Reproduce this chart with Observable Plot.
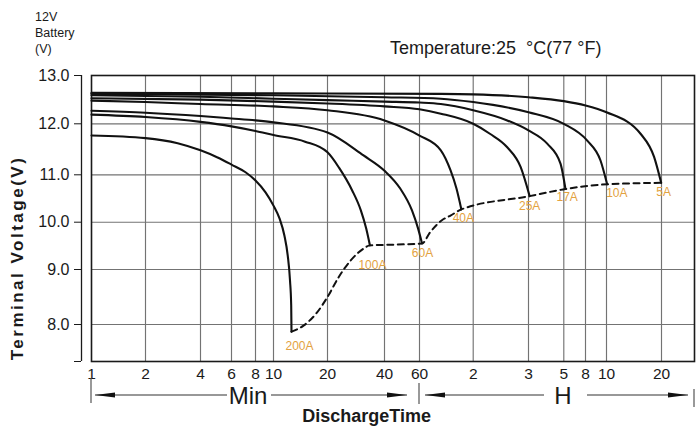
<!DOCTYPE html>
<html><head><meta charset="utf-8">
<script src="https://cdn.jsdelivr.net/npm/d3@7"></script>
<script src="https://cdn.jsdelivr.net/npm/@observablehq/plot@0.6"></script>
<style>
body{margin:0;background:#fff;}
svg text{font-family:"Liberation Sans",Arial,Helvetica,sans-serif;}
</style>
</head><body><div id="chart"></div>
<script>
// ---------------- data (time in minutes, voltage in V) ----------------
const series = ["200A","100A","60A","40A","25A","17A","10A","5A"];
const t200 = [1,2,3,4,5,6,7.1,8,9.06,10,10.8,11.5,12,12.36,12.55,12.6];
const v200 = [11.77,11.72,11.62,11.48,11.34,11.20,11.05,10.88,10.63,10.35,10.08,9.72,9.30,8.80,8.35,7.87];
const t100 = [1,2,4,6,8,10,15,20,23,27,30,32,33.5];
const v100 = [12.19,12.14,12.04,11.95,11.86,11.78,11.65,11.44,11.14,10.67,10.25,9.87,9.51];
const t60 = [1,2,4,6,8,10,20,31,40,48,55,59,62];
const v60 = [12.27,12.23,12.16,12.11,12.07,12.03,11.83,11.38,11.08,10.71,10.25,9.87,9.55];
const t40 = [1,2,4,10,20,40,60,79,89.5,96.7,103];
const v40 = [12.48,12.45,12.41,12.36,12.28,12.07,11.77,11.48,11.09,10.71,10.27];
const t25 = [1,4,10,20,40,60,79,120,136,154,170,183];
const v25 = [12.53,12.50,12.46,12.42,12.36,12.30,12.21,12.00,11.80,11.54,11.15,10.55];
const t17 = [1,4,10,20,40,60,79,120,154,180,236,286,311];
const v17 = [12.59,12.56,12.52,12.49,12.46,12.44,12.41,12.28,12.07,11.87,11.61,11.22,10.70];
const t10 = [1,10,40,79,120,180,300,489,563,605];
const v10 = [12.62,12.59,12.55,12.52,12.45,12.24,12.00,11.67,11.28,10.80];
const t5 = [1,10,79,120,180,300,480,600,924,1093,1195];
const v5 = [12.64,12.63,12.62,12.61,12.55,12.47,12.38,12.24,11.80,11.35,10.83];
// dashed end-voltage line
const dashT = [12.6,14.7,17.5,20,22.9,26.5,31,33.5,39.6,62,68.9,80.1,89.5,103,183,311,605,1195];
const dashV = [7.87,7.98,8.22,8.50,8.86,9.19,9.44,9.51,9.52,9.55,9.79,10.04,10.14,10.27,10.55,10.70,10.80,10.83];
// axes
const xTicks = [1,2,4,6,8,10,20,40,60,120,180,300,480,600,1200];
const xTickLabels = ["1","2","4","6","8","10","20","40","60","2","3","5","8","10","20"];
const xEnd = 1800;
const yTicks = [8,9,10,11,12,13];
const yMin = 7.33;

// ---------------- layout ----------------
const W = 696, H = 427;
// the printed grid is unevenly spaced: piecewise scale ranges
const xRange = [91,145,200,231,255,273,327,384,419,472.7,528,563.3,585,606,661,694];
const yRange = [361,324,269,221.7,174.3,123.3,75];
const labelOffsets = [[8,14],[2.5,19.5],[0.5,10],[2,8.5],[0,10.5],[1.7,8.4],[9.7,9],[2.5,9.5]];
const FONT = '"Liberation Sans",Arial,Helvetica,sans-serif';

const curves = [[t200,v200],[t100,v100],[t60,v60],[t40,v40],[t25,v25],[t17,v17],[t10,v10],[t5,v5]];
const rows = curves.flatMap(([ts,vs],i) => ts.map((t,j) => ({t, v: vs[j], s: series[i]})));
const ends = curves.map(([ts,vs],i) => ({t: ts[ts.length-1], v: vs[vs.length-1], s: series[i]}));
const dash = dashT.map((t,i) => ({t, v: dashV[i]}));
const tickLabel = new Map(xTicks.map((d,i) => [d, xTickLabels[i]]));

const gridStyle = {stroke: "#737373", strokeOpacity: 1, strokeWidth: 1.15};

const chart = Plot.plot({
  width: W, height: H,
  marginLeft: 91, marginRight: 2, marginTop: 75, marginBottom: 66,
  style: {fontFamily: FONT, fontSize: "16px", color: "#1a1a1a", background: "#fff"},
  x: {type: "log", domain: [...xTicks, xEnd], range: xRange, axis: null},
  y: {type: "linear", domain: [yMin, ...yTicks], range: yRange},
  marks: [
    Plot.gridX(xTicks.slice(1), gridStyle),
    Plot.gridY(yTicks.slice(0, -1), gridStyle),
    Plot.frame({stroke: "#1a1a1a", strokeWidth: 1.6}),
    Plot.text(xTicks, {x: d => d, text: d => tickLabel.get(d), frameAnchor: "bottom", lineAnchor: "top", dy: 6.5, fontSize: 15.5, fill: "#1a1a1a"}),
    Plot.axisY(yTicks, {tickSize: 7, tickPadding: 5, dx: -10, tickFormat: d => d.toFixed(1), fontSize: 16, label: null}),
    Plot.axisY([yMin], {tickSize: 7, dx: -10, tickFormat: () => "", label: null}),
    Plot.ruleX([xTicks[0]], {y1: yMin, y2: yTicks[yTicks.length-1], dx: -10, stroke: "#1a1a1a", strokeWidth: 1.3}),
    Plot.line(rows, {x: "t", y: "v", z: "s", stroke: "#111", strokeWidth: 2.1, curve: "monotone-x"}),
    Plot.line(dash, {x: "t", y: "v", stroke: "#111", strokeWidth: 2, strokeDasharray: "6,4.5", curve: "monotone-x"}),
    ...ends.map((d,i) => Plot.text([d], {x: "t", y: "v", text: "s", dx: labelOffsets[i][0], dy: labelOffsets[i][1], fill: "#e3a23f", fontSize: 12}))
  ]
});
document.getElementById("chart").appendChild(chart);

// ---------------- annotations ----------------
const svg = d3.select(chart);
const sx = chart.scale("x");
const X1 = sx.apply(xTicks[0]), X60 = sx.apply(60), XE = sx.apply(xEnd);
const g = svg.append("g").attr("font-family", FONT).attr("fill", "#1a1a1a").attr("text-anchor", "start");

// top-left unit label
[["12V",20.7],["Battery",37],["(V)",52.5]].forEach(([s,y]) =>
  g.append("text").attr("x", 35).attr("y", y).attr("font-size", 12.5).attr("text-anchor", "start").text(s));
// temperature
g.append("text").attr("x", 390).attr("y", 54).attr("font-size", 18).attr("text-anchor", "start")
  .style("white-space", "pre").attr("xml:space", "preserve").text("Temperature:25  °C(77 °F)");
// y title
g.append("text").attr("transform", "translate(23,258) rotate(-90)")
  .attr("text-anchor", "middle").attr("font-size", 17).attr("font-weight", "bold")
  .attr("letter-spacing", "2.5px").text("Terminal Voltage(V)");

// time-range arrows
const AY = 395;
function line(x1, x2) {
  g.append("line").attr("x1", x1).attr("x2", x2).attr("y1", AY).attr("y2", AY)
    .attr("stroke", "#333").attr("stroke-width", 1.1);
}
function head(tip, dir) { // dir -1 = pointing left, +1 = right
  const b = tip - dir * 20;
  g.append("polygon").attr("points", `${tip},${AY} ${b},${AY-2.6} ${b},${AY+2.6}`).attr("fill", "#111");
}
function vmark(x, y1, y2) {
  g.append("line").attr("x1", x).attr("x2", x).attr("y1", y1).attr("y2", y2)
    .attr("stroke", "#555").attr("stroke-width", 1.2);
}
vmark(X1, 378, 403); vmark(X60, 383, 404); vmark(XE, 389, 407);
// Min
line(X1 + 4, X1 + 136); head(X1 + 4, -1);
g.append("text").attr("x", X1 + 157).attr("y", 404).attr("text-anchor", "middle").attr("font-size", 24).text("Min");
line(X1 + 180, X60 - 12); head(X60 - 12, 1);
// H
line(X60 + 6, X60 + 125); head(X60 + 6, -1);
g.append("text").attr("x", X60 + 144).attr("y", 404).attr("text-anchor", "middle").attr("font-size", 24).text("H");
line(X60 + 168, XE - 6); head(XE - 6, 1);
// x title
g.append("text").attr("x", 366.7).attr("y", 421.5).attr("text-anchor", "middle")
  .attr("font-size", 18).attr("font-weight", "bold").text("DischargeTime");
</script>
</body></html>
